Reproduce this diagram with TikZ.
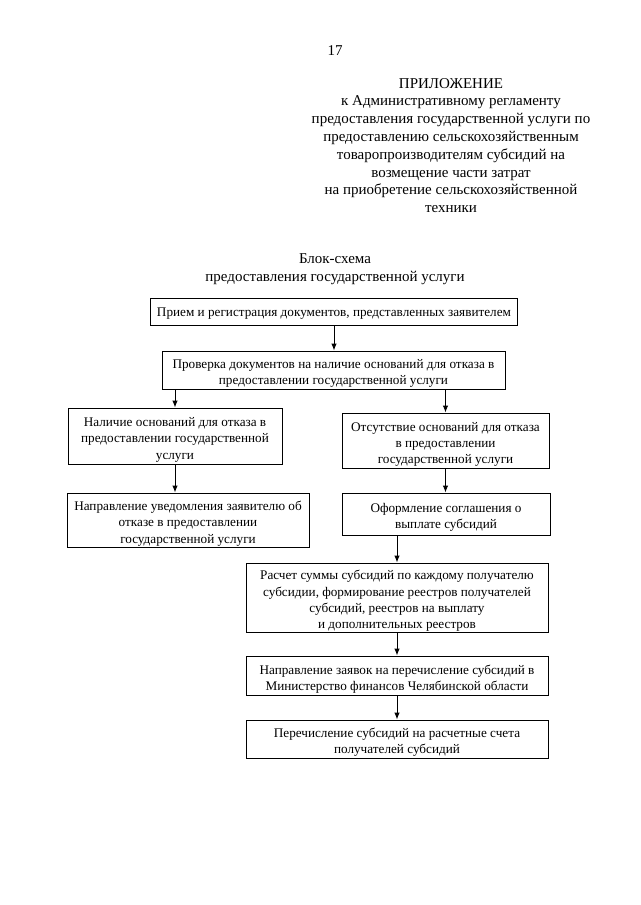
\documentclass[tikz,border=0pt]{standalone}
\usepackage{fontspec}
\setmainfont{Liberation Serif}
\usetikzlibrary{arrows.meta}
\newcommand\dnst{\rule{0pt}{16.5pt}}
\tikzset{
  stepbox/.style={draw, line width=0.95pt, inner sep=0pt, align=center,
    font=\fontsize{13.2}{16.3}\selectfont},
  arr/.style={line width=0.95pt, -{Latex[length=7pt,width=5.5pt]}},
  headtxt/.style={inner sep=0pt, align=center, font=\fontsize{15}{17.8}\selectfont}
}
\begin{document}
\begin{tikzpicture}[x=1pt,y=-1pt]
\useasboundingbox (0,0) rectangle (640,905);
\fill[white] (0,0) rectangle (640,905);

\node[headtxt] (pg) at (335,51) {17};
\node[headtxt, anchor=north] (app) at (451,78) {ПРИЛОЖЕНИЕ\\
к Административному регламенту\\
предоставления государственной услуги по\\
предоставлению сельскохозяйственным\\
товаропроизводителям субсидий на\\
возмещение части затрат\\
на приобретение сельскохозяйственной\\
техники};

\node[headtxt] (title) at (335,269) {Блок-схема\\предоставления государственной услуги};

\node[stepbox, minimum width=367pt, minimum height=27pt] (b1) at (334,311.5)
  {\rule{0pt}{12pt}Прием и регистрация документов, представленных заявителем};
\node[stepbox, minimum width=343pt, minimum height=38pt] (b2) at (333.5,370)
  {\dnst Проверка документов на наличие оснований для отказа в\\предоставлении государственной услуги};
\node[stepbox, minimum width=214pt, minimum height=56pt] (b3l) at (175,436)
  {\dnst Наличие оснований для отказа в\\предоставлении государственной\\услуги};
\node[stepbox, minimum width=207pt, minimum height=55pt] (b3r) at (445.5,440.5)
  {\dnst Отсутствие оснований для отказа\\в предоставлении\\государственной услуги};
\node[stepbox, minimum width=242pt, minimum height=54pt] (b4l) at (188,520)
  {\dnst Направление уведомления заявителю об\\отказе в предоставлении\\государственной услуги};
\node[stepbox, minimum width=208pt, minimum height=42pt] (b4r) at (446,514)
  {\dnst Оформление соглашения о\\выплате субсидий};
\node[stepbox, minimum width=302pt, minimum height=69pt] (b5) at (397,597.5)
  {\dnst Расчет суммы субсидий по каждому получателю\\субсидии, формирование реестров получателей\\субсидий, реестров на выплату\\и дополнительных реестров};
\node[stepbox, minimum width=302pt, minimum height=39pt] (b6) at (397,675.5)
  {\dnst Направление заявок на перечисление субсидий в\\Министерство финансов Челябинской области};
\node[stepbox, minimum width=302pt, minimum height=38pt] (b7) at (397,739)
  {\dnst Перечисление субсидий на расчетные счета\\получателей субсидий};

\draw[arr] (b1.south) -- (b1.south |- b2.north);
\draw[arr] (b3l.north |- b2.south) -- (b3l.north);
\draw[arr] (b3r.north |- b2.south) -- (b3r.north);
\draw[arr] (b3l.south) -- (b3l.south |- b4l.north);
\draw[arr] (b3r.south) -- (b3r.south |- b4r.north);
\draw[arr] (b5.north |- b4r.south) -- (b5.north);
\draw[arr] (b5.south) -- (b6.north);
\draw[arr] (b6.south) -- (b7.north);
\end{tikzpicture}
\end{document}
